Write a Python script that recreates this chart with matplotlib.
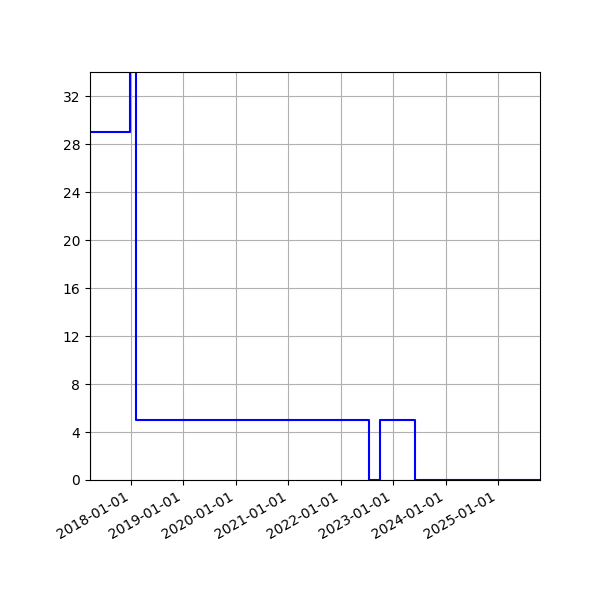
import matplotlib
matplotlib.use('Agg')
import matplotlib.pyplot as plt
import matplotlib.dates as mdates
from matplotlib.ticker import MultipleLocator
import numpy as np

# change dates and the value that holds from that date on
dates = np.array(['2017-03-21', '2017-03-21', '2017-12-22', '2018-02-01',
                  '2022-07-18', '2022-09-28', '2023-06-01', '2025-10-19'],
                 dtype='datetime64[D]')
values = [0, 29, 60, 5, 0, 5, 0, 0]

fig, ax = plt.subplots(figsize=(6, 6), dpi=100)
ax.plot(dates, values, drawstyle='steps-post', color='blue')

ax.set_xlim(dates[0], dates[-1])
ax.set_ylim(0, 34)
ax.yaxis.set_major_locator(MultipleLocator(4))
ax.xaxis.set_major_locator(mdates.YearLocator())
ax.xaxis.set_major_formatter(mdates.DateFormatter('%Y-%m-%d'))
ax.grid(True)
fig.autofmt_xdate()
fig.subplots_adjust(left=0.15, right=0.9, top=0.88, bottom=0.2)

fig.savefig('out.png')
